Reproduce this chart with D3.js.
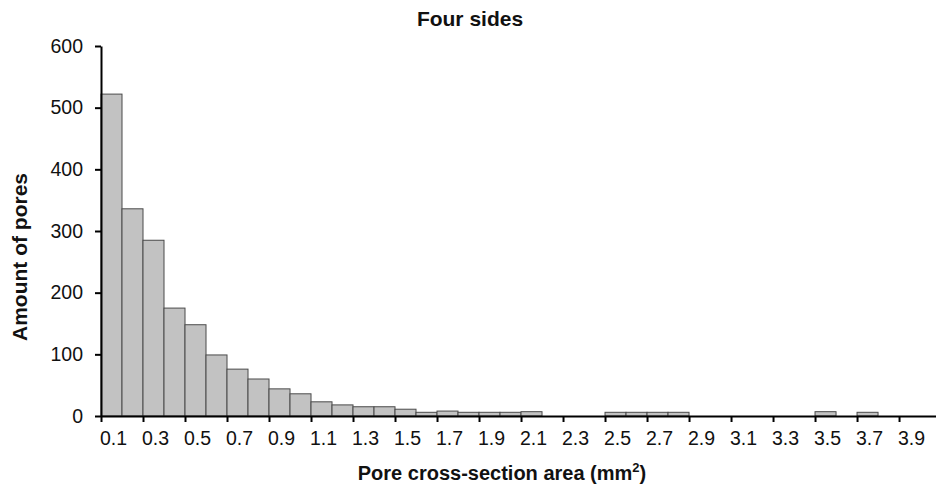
<!DOCTYPE html>
<html>
<head>
<meta charset="utf-8">
<script src="https://cdn.jsdelivr.net/npm/d3@7"></script>
<style>
	body { margin: 0; background: #fff; }
	svg text { font-family: "Liberation Sans", Arial, sans-serif; fill: #111; }
</style>
</head>
<body>
<svg id="chart" width="936" height="489"></svg>
<script>

// lower edge of each 0.1 mm2 bin
var binStarts = [0.1, 0.2, 0.3, 0.4, 0.5, 0.6, 0.7, 0.8, 0.9, 1.0,
	1.1, 1.2, 1.3, 1.4, 1.5, 1.6, 1.7, 1.8, 1.9, 2.0,
	2.1, 2.2, 2.3, 2.4, 2.5, 2.6, 2.7, 2.8, 2.9, 3.0,
	3.1, 3.2, 3.3, 3.4, 3.5, 3.6, 3.7, 3.8];

// amount of pores in each bin
var counts = [522, 336, 285, 175, 148, 99, 76, 60, 44, 36,
	23, 18, 15, 15, 11, 6, 8, 6, 6, 6,
	7, 0, 0, 0, 6, 6, 6, 6, 0, 0,
	0, 0, 0, 0, 7, 0, 6, 0];

var xTickValues = [0.1, 0.3, 0.5, 0.7, 0.9, 1.1, 1.3, 1.5, 1.7, 1.9, 2.1, 2.3, 2.5, 2.7, 2.9, 3.1, 3.3, 3.5, 3.7, 3.9];
var xTickLabels = ["0.1", "0.3", "0.5", "0.7", "0.9", "1.1", "1.3", "1.5", "1.7", "1.9", "2.1", "2.3", "2.5", "2.7", "2.9", "3.1", "3.3", "3.5", "3.7", "3.9"];
var yTickValues = [0, 100, 200, 300, 400, 500, 600];

var binWidth = 0.1;

var svg = d3.select("#chart");

// x is linear in mm2, y in counts
var x = d3.scaleLinear()
	.domain([0.1, 4.076])
	.range([101, 936]);

var y = d3.scaleLinear()
	.domain([0, 600])
	.range([416, 46]);

var data = binStarts.map(function (b, i) { return { start: b, value: counts[i] }; });

// bars (empty bins are left out)
svg.append("g")
	.selectAll("rect")
	.data(data.filter(function (d) { return d.value > 0; }))
	.enter()
	.append("rect")
	.attr("x", function (d) { return x(d.start); })
	.attr("y", function (d) { return y(d.value); })
	.attr("width", function (d) { return x(d.start + binWidth) - x(d.start); })
	.attr("height", function (d) { return y(0) - y(d.value); })
	.attr("fill", "#c2c2c2")
	.attr("stroke", "#4a4a4a")
	.attr("stroke-width", 1);

// x axis, labels sit in the middle of the bin that starts at the tick
var halfBin = (x(0.1 + binWidth) - x(0.1)) / 2 + 1.5;
var xAxis = svg.append("g")
	.attr("transform", "translate(0," + y(0) + ")")
	.call(d3.axisBottom(x)
		.tickValues(xTickValues)
		.tickFormat(function (d, i) { return xTickLabels[i]; })
		.tickSize(6)
		.tickSizeOuter(0)
		.tickPadding(9));
xAxis.selectAll("text")
	.attr("x", halfBin)
	.style("font-size", "19.5px");

var yAxis = svg.append("g")
	.attr("transform", "translate(" + x(0.1) + ",0)")
	.call(d3.axisLeft(y)
		.tickValues(yTickValues)
		.tickSize(6)
		.tickSizeOuter(0)
		.tickPadding(12));
yAxis.selectAll("text")
	.style("font-size", "19.5px");

svg.selectAll(".domain, .tick line")
	.attr("stroke", "#000")
	.attr("stroke-width", 2);
svg.selectAll(".tick text").attr("fill", "#111");

// titles
svg.append("text")
	.attr("x", 470)
	.attr("y", 26)
	.attr("text-anchor", "middle")
	.style("font-size", "21px")
	.style("font-weight", "bold")
	.text("Four sides");

var xTitle = svg.append("text")
	.attr("x", 502)
	.attr("y", 480)
	.attr("text-anchor", "middle")
	.style("font-size", "20px")
	.style("font-weight", "bold");
xTitle.append("tspan").text("Pore cross-section area (mm");
xTitle.append("tspan").attr("dy", -8).style("font-size", "13px").text("2");
xTitle.append("tspan").attr("dy", 8).text(")");

svg.append("text")
	.attr("transform", "translate(27,257) rotate(-90)")
	.attr("text-anchor", "middle")
	.style("font-size", "21px")
	.style("font-weight", "bold")
	.text("Amount of pores");

</script>
</body>
</html>
